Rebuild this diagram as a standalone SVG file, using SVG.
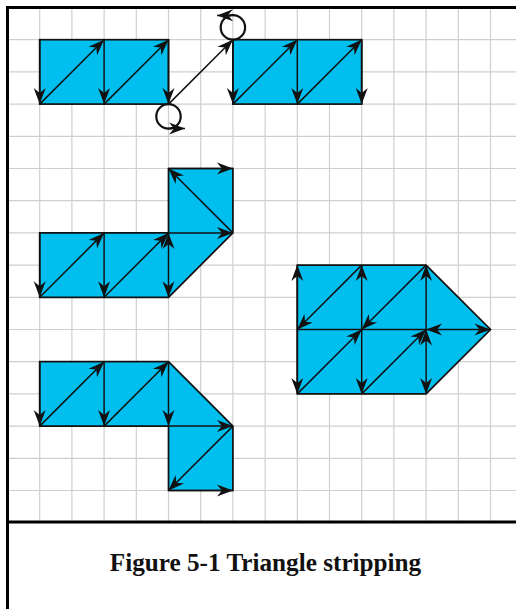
<svg xmlns="http://www.w3.org/2000/svg" width="516" height="609" viewBox="0 0 516 609">
<style>
.grid line{stroke:#cfcfcf;stroke-width:1.2}
.frame{stroke:#000;stroke-width:3;fill:none}
.shape{fill:#00bfef;stroke:#111;stroke-width:1.7;stroke-linejoin:miter}
.ln{stroke:#111;stroke-width:1.5;fill:none}
.a{stroke:#111;stroke-width:1.5;fill:none;marker-end:url(#ah)}
.aa{stroke:#111;stroke-width:1.5;fill:none;marker-end:url(#ah);marker-start:url(#ah)}
.loop{stroke:#111;stroke-width:2.2;fill:none}
.cap{font-family:"Liberation Serif","Times New Roman",serif;font-weight:bold;font-size:25.2px;fill:#111}
</style>
<defs>
<marker id="ah" viewBox="-17 -7 18 14" markerWidth="18" markerHeight="14" refX="0" refY="0" orient="auto-start-reverse" markerUnits="userSpaceOnUse">
<path d="M0,0 L-16,-6 L-11,0 L-16,6 Z" fill="#111"/>
</marker>
</defs>
<rect x="0" y="0" width="516" height="609" fill="#fff"/>
<g class="grid" id="grid">
<line x1="39.7" y1="7.5" x2="39.7" y2="522"/>
<line x1="71.9" y1="7.5" x2="71.9" y2="522"/>
<line x1="104.1" y1="7.5" x2="104.1" y2="522"/>
<line x1="136.3" y1="7.5" x2="136.3" y2="522"/>
<line x1="168.5" y1="7.5" x2="168.5" y2="522"/>
<line x1="200.7" y1="7.5" x2="200.7" y2="522"/>
<line x1="232.9" y1="7.5" x2="232.9" y2="522"/>
<line x1="265.1" y1="7.5" x2="265.1" y2="522"/>
<line x1="297.3" y1="7.5" x2="297.3" y2="522"/>
<line x1="329.5" y1="7.5" x2="329.5" y2="522"/>
<line x1="361.7" y1="7.5" x2="361.7" y2="522"/>
<line x1="393.9" y1="7.5" x2="393.9" y2="522"/>
<line x1="426.1" y1="7.5" x2="426.1" y2="522"/>
<line x1="458.3" y1="7.5" x2="458.3" y2="522"/>
<line x1="490.5" y1="7.5" x2="490.5" y2="522"/>
<line x1="7.5" y1="39.7" x2="516" y2="39.7"/>
<line x1="7.5" y1="71.9" x2="516" y2="71.9"/>
<line x1="7.5" y1="104.1" x2="516" y2="104.1"/>
<line x1="7.5" y1="136.3" x2="516" y2="136.3"/>
<line x1="7.5" y1="168.5" x2="516" y2="168.5"/>
<line x1="7.5" y1="200.7" x2="516" y2="200.7"/>
<line x1="7.5" y1="232.9" x2="516" y2="232.9"/>
<line x1="7.5" y1="265.1" x2="516" y2="265.1"/>
<line x1="7.5" y1="297.3" x2="516" y2="297.3"/>
<line x1="7.5" y1="329.5" x2="516" y2="329.5"/>
<line x1="7.5" y1="361.7" x2="516" y2="361.7"/>
<line x1="7.5" y1="393.9" x2="516" y2="393.9"/>
<line x1="7.5" y1="426.1" x2="516" y2="426.1"/>
<line x1="7.5" y1="458.3" x2="516" y2="458.3"/>
<line x1="7.5" y1="490.5" x2="516" y2="490.5"/>
</g>
<g id="frame">
<path class="frame" d="M516,7.5 H7.5 V609"/>
<path class="frame" d="M7.5,522 H516"/>
</g>
<g id="strip-a">
<rect class="shape" x="39.7" y="39.7" width="128.8" height="64.4"/>
</g>
<g id="strip-b">
<rect class="shape" x="232.9" y="39.7" width="128.8" height="64.4"/>
</g>
<g id="strip-c">
<polygon class="shape" points="39.7,232.9 168.5,232.9 168.5,168.5 232.9,168.5 232.9,232.9 168.5,297.3 39.7,297.3"/>
</g>
<g id="strip-d">
<polygon class="shape" points="39.7,361.7 168.5,361.7 232.9,426.1 232.9,490.5 168.5,490.5 168.5,426.1 39.7,426.1"/>
</g>
<g id="fan">
<polygon class="shape" points="297.3,265.1 426.1,265.1 490.5,329.5 426.1,393.9 297.3,393.9"/>
</g>
<g id="connectors">
<line class="a" x1="39.7" y1="39.7" x2="39.7" y2="104.1"/>
<line class="a" x1="39.7" y1="104.1" x2="104.1" y2="39.7"/>
<line class="a" x1="104.1" y1="39.7" x2="104.1" y2="104.1"/>
<line class="a" x1="104.1" y1="104.1" x2="168.5" y2="39.7"/>
<line class="a" x1="168.5" y1="39.7" x2="168.5" y2="104.1"/>
<line class="a" x1="168.5" y1="104.1" x2="232.9" y2="39.7"/>
<circle class="loop" cx="168.5" cy="116.4" r="12.2"/>
<line class="a" x1="168.5" y1="128.6" x2="185" y2="128.4"/>
<circle class="loop" cx="232.9" cy="27.4" r="12.2"/>
<line class="a" x1="232.9" y1="15.2" x2="217" y2="15.4"/>
<line class="a" x1="232.9" y1="39.7" x2="232.9" y2="104.1"/>
<line class="a" x1="232.9" y1="104.1" x2="297.3" y2="39.7"/>
<line class="a" x1="297.3" y1="39.7" x2="297.3" y2="104.1"/>
<line class="a" x1="297.3" y1="104.1" x2="361.7" y2="39.7"/>
<line class="a" x1="361.7" y1="39.7" x2="361.7" y2="104.1"/>
<line class="a" x1="39.7" y1="232.9" x2="39.7" y2="297.3"/>
<line class="a" x1="39.7" y1="297.3" x2="104.1" y2="232.9"/>
<line class="a" x1="104.1" y1="232.9" x2="104.1" y2="297.3"/>
<line class="a" x1="104.1" y1="297.3" x2="168.5" y2="232.9"/>
<line class="aa" x1="168.5" y1="232.9" x2="168.5" y2="297.3"/>
<line class="a" x1="168.5" y1="232.9" x2="232.9" y2="232.9"/>
<line class="a" x1="232.9" y1="232.9" x2="168.5" y2="168.5"/>
<line class="a" x1="168.5" y1="168.5" x2="232.9" y2="168.5"/>
<line class="a" x1="39.7" y1="361.7" x2="39.7" y2="426.1"/>
<line class="a" x1="39.7" y1="426.1" x2="104.1" y2="361.7"/>
<line class="a" x1="104.1" y1="361.7" x2="104.1" y2="426.1"/>
<line class="a" x1="104.1" y1="426.1" x2="168.5" y2="361.7"/>
<line class="a" x1="168.5" y1="361.7" x2="168.5" y2="426.1"/>
<line class="a" x1="168.5" y1="426.1" x2="232.9" y2="426.1"/>
<line class="a" x1="232.9" y1="426.1" x2="168.5" y2="490.5"/>
<line class="a" x1="168.5" y1="490.5" x2="232.9" y2="490.5"/>
<line class="ln" x1="297.3" y1="329.5" x2="426.1" y2="329.5"/>
<line class="aa" x1="297.3" y1="265.1" x2="297.3" y2="393.9"/>
<line class="aa" x1="361.7" y1="265.1" x2="361.7" y2="393.9"/>
<line class="a" x1="361.7" y1="265.1" x2="297.3" y2="329.5"/>
<line class="a" x1="426.1" y1="265.1" x2="361.7" y2="329.5"/>
<line class="a" x1="297.3" y1="393.9" x2="361.7" y2="329.5"/>
<line class="a" x1="361.7" y1="393.9" x2="426.1" y2="329.5"/>
<line class="a" x1="426.1" y1="329.5" x2="426.1" y2="265.1"/>
<line class="aa" x1="426.1" y1="329.5" x2="426.1" y2="393.9"/>
<line class="aa" x1="426.1" y1="329.5" x2="490.5" y2="329.5"/>
</g>
<text class="cap" x="265.5" y="571" text-anchor="middle">Figure 5-1 Triangle stripping</text>
</svg>
